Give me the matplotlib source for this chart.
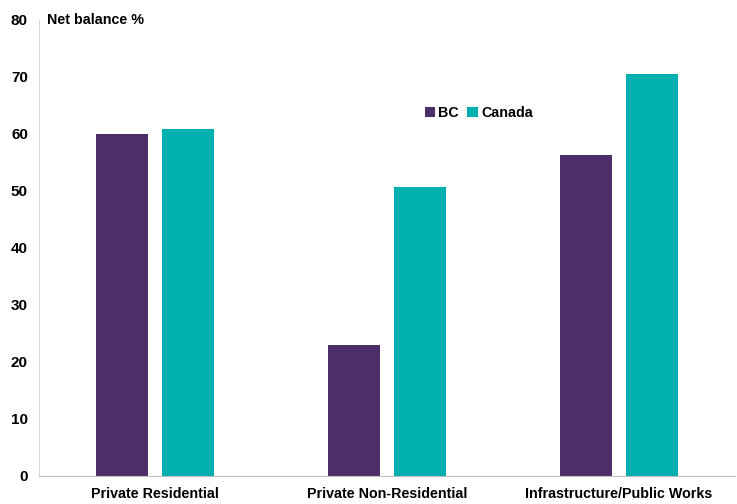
import matplotlib.pyplot as plt
import numpy as np

categories = ["Private Residential", "Private Non-Residential", "Infrastructure/Public Works"]
bc_values = [60.0, 23.0, 56.2]
canada_values = [60.8, 50.6, 70.4]
y_ticks = [0, 10, 20, 30, 40, 50, 60, 70, 80]

BC_COLOR = "#4c2f68"
CANADA_COLOR = "#00b0b0"

plt.rcParams["font.family"] = ["Liberation Sans", "DejaVu Sans"]
plt.rcParams["font.weight"] = "bold"

fig = plt.figure(figsize=(7.37, 5.04), dpi=100)
ax = fig.add_axes([0.053, 0.056, 0.944, 0.905])

x = np.arange(len(categories))
width = 0.224
offset = 0.142
ax.bar(x - offset, bc_values, width, color=BC_COLOR, label="BC")
ax.bar(x + offset, canada_values, width, color=CANADA_COLOR, label="Canada")

ax.set_xlim(-0.5, len(categories) - 0.5)
ax.set_ylim(0, 80)
ax.set_yticks(y_ticks)
ax.set_yticklabels([str(t) for t in y_ticks], fontsize=11, fontweight="bold")
ax.set_xticks(x)
ax.set_xticklabels(categories, fontsize=10.3, fontweight="bold")
ax.tick_params(axis="both", length=0)
ax.tick_params(axis="y", pad=8)
ax.tick_params(axis="x", pad=8)

for side in ("top", "right"):
    ax.spines[side].set_visible(False)
ax.spines["left"].set_color("#d9d9d9")
ax.spines["left"].set_linewidth(0.8)
ax.spines["bottom"].set_color("#bfbfbf")
ax.spines["bottom"].set_linewidth(0.8)

ax.text(0.012, 1.0, "Net balance %", transform=ax.transAxes, fontsize=10.3,
        fontweight="bold", ha="left", va="center")

ax.legend(loc="center", bbox_to_anchor=(0.632, 0.795), ncol=2, frameon=False,
          handlelength=0.75, handleheight=0.75, handletextpad=0.2, columnspacing=0.6,
          prop={"size": 10.3, "weight": "bold"})

fig.savefig("out.png", dpi=100)
